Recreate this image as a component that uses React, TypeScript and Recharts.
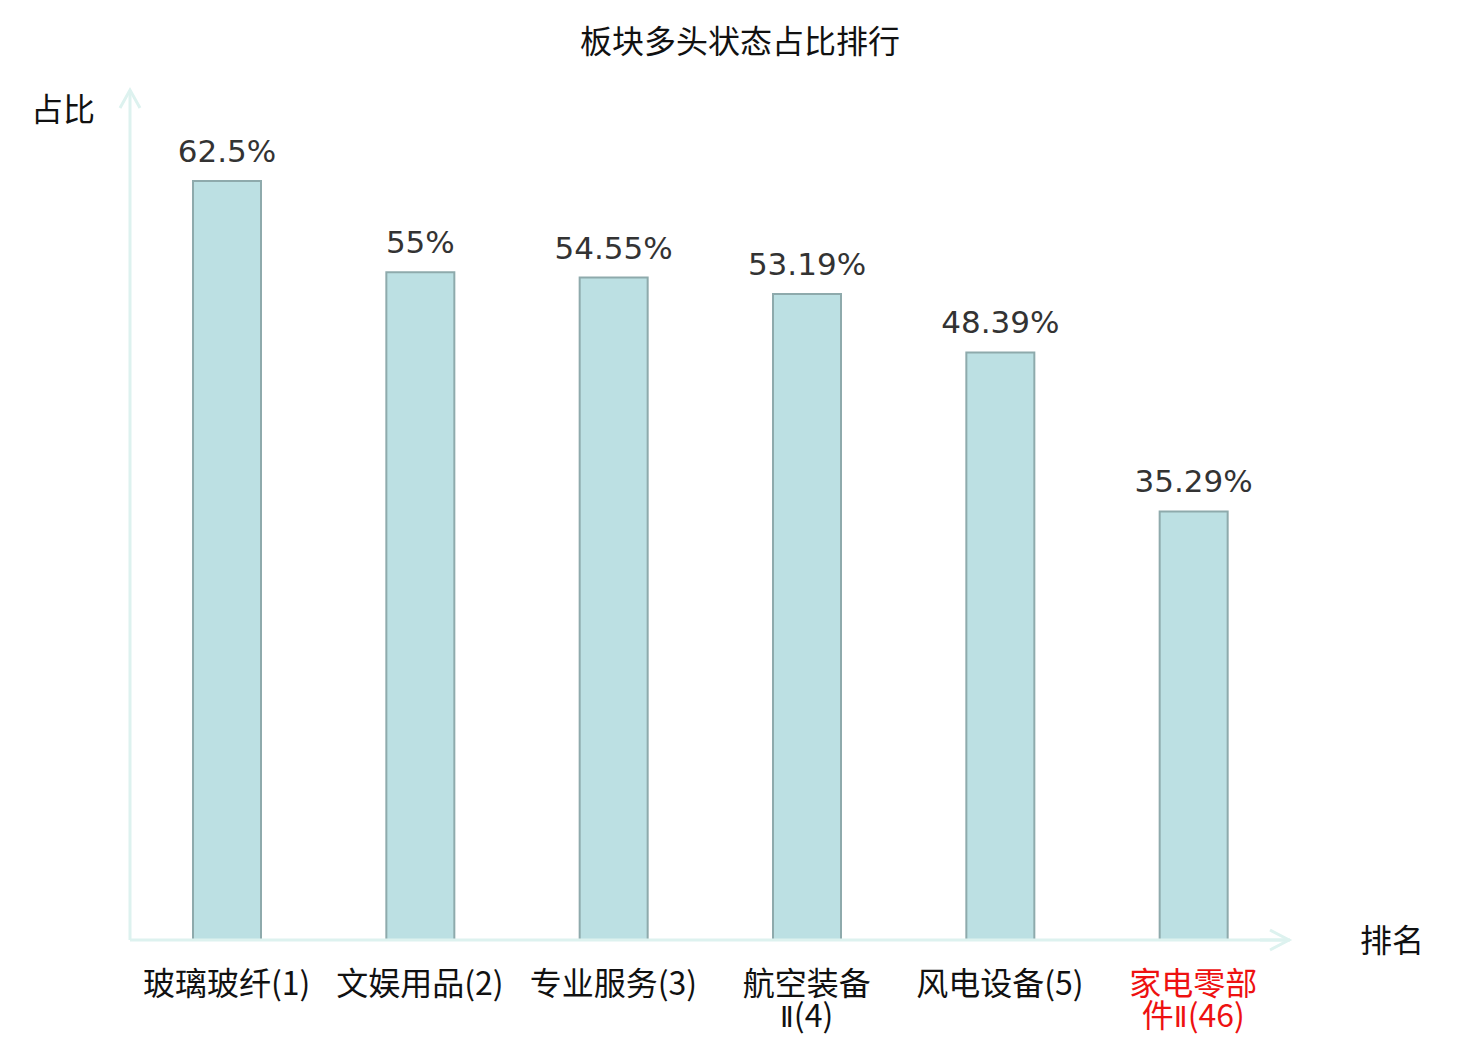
import React from 'react';
import { BarChart, Bar, XAxis, YAxis, LabelList } from 'recharts';

// 板块名称 (换行处用 \n)
const categories = ['玻璃玻纤(1)', '文娱用品(2)', '专业服务(3)', '航空装备\nⅡ(4)', '风电设备(5)', '家电零部\n件Ⅱ(46)'];
// 多头状态占比 (%)
const ratios = [62.5, 55, 54.55, 53.19, 48.39, 35.29];
// 高亮的板块
const highlighted = ['家电零部\n件Ⅱ(46)'];

const data = categories.map((name, i) => ({ name, ratio: ratios[i] }));

const AXIS_COLOR = '#ddf2ef';
const CJK = '"Noto Sans CJK SC", "Noto Sans", sans-serif';

// 罗马数字用窄字体显示
const renderLine = (line: string) =>
  line.split(/(Ⅱ)/).filter(Boolean).map((part, j) =>
    part === 'Ⅱ' ? (
      <tspan key={j} fontFamily='"DejaVu Sans", sans-serif' fontSize={28}>
        {part}
      </tspan>
    ) : (
      <tspan key={j}>{part}</tspan>
    )
  );

const CategoryTick = (props: any) => {
  const { x, y, payload } = props;
  const lines = String(payload.value).split('\n');
  const color = highlighted.includes(payload.value) ? '#ee1111' : '#111';
  return (
    <g>
      {lines.map((line, i) => (
        <text
          key={i}
          x={x}
          y={y + 47 + i * 32}
          textAnchor="middle"
          fontSize={32}
          fontFamily={CJK}
          fill={color}
        >
          {renderLine(line)}
        </text>
      ))}
    </g>
  );
};

const ValueLabel = (props: any) => {
  const { x, y, width, value } = props;
  return (
    <text
      x={x + width / 2}
      y={y - 19}
      textAnchor="middle"
      fontSize={31}
      fontFamily='"DejaVu Sans", sans-serif'
      fill="#333"
    >
      {`${value}%`}
    </text>
  );
};

const App = () => {
  return (
    <div style={{ position: 'absolute', left: 0, top: 0, width: 1480, height: 1040, background: '#fff' }}>
      <BarChart
        width={1480}
        height={1040}
        data={data}
        margin={{ top: 90, right: 190, left: 70, bottom: 0 }}
      >
        <XAxis
          dataKey="name"
          interval={0}
          axisLine={{ stroke: AXIS_COLOR, strokeWidth: 3 }}
          tickLine={false}
          tick={<CategoryTick />}
          height={100}
        />
        <YAxis
          domain={[0, 70]}
          axisLine={{ stroke: AXIS_COLOR, strokeWidth: 3 }}
          tickLine={false}
          tick={false}
          width={60}
        />
        <Bar dataKey="ratio" barSize={68} fill="#bce0e3" stroke="#8eaaac" strokeWidth={2} isAnimationActive={false}>
          <LabelList dataKey="ratio" content={<ValueLabel />} />
        </Bar>
      </BarChart>
      <svg width={1480} height={1040} style={{ position: 'absolute', left: 0, top: 0, pointerEvents: 'none' }}>
        <text x={740} y={53} textAnchor="middle" fontSize={32} fontFamily={CJK} fill="#111">
          板块多头状态占比排行
        </text>
        <text x={63} y={121} textAnchor="middle" fontSize={32} fontFamily={CJK} fill="#111">
          占比
        </text>
        <text x={1392} y={952} textAnchor="middle" fontSize={32} fontFamily={CJK} fill="#111">
          排名
        </text>
        <polyline points="120,108 130,90 140,108" fill="none" stroke={AXIS_COLOR} strokeWidth={3} />
        <polyline points="1270,930 1289,940 1270,950" fill="none" stroke={AXIS_COLOR} strokeWidth={3} />
        <line x1={1288} y1={940} x2={1260} y2={940} stroke={AXIS_COLOR} strokeWidth={3} />
      </svg>
    </div>
  );
};

export default App;
